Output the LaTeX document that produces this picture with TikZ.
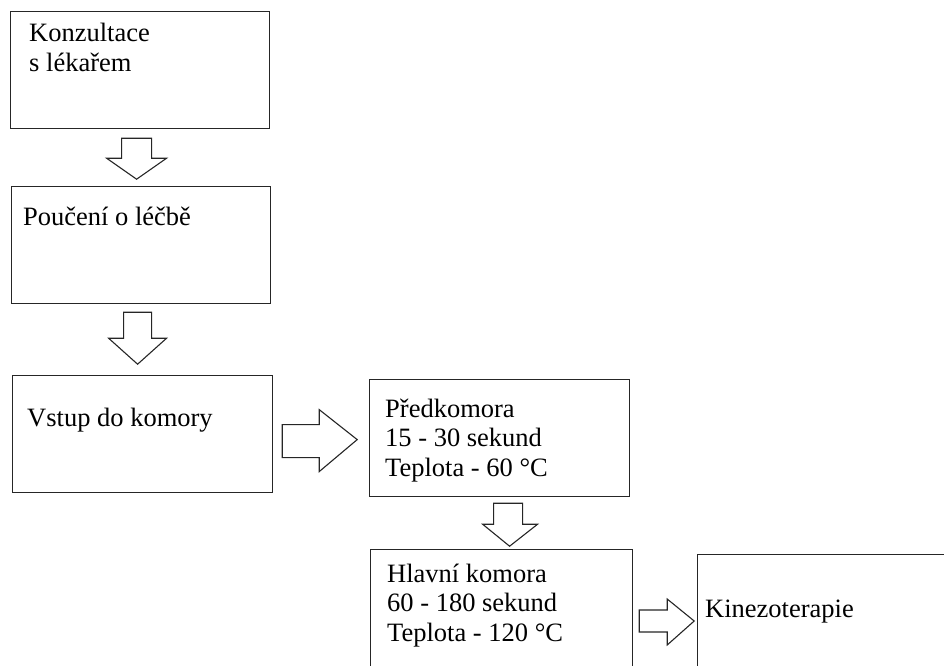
\documentclass[tikz,border=0pt]{standalone}
\usepackage{fontspec}
\setmainfont{Liberation Serif}
\usetikzlibrary{calc,positioning}

\begin{document}
\begin{tikzpicture}[
    x=1pt, y=-1pt,
    every node/.style={font=\fontsize{26.5}{29.5}\selectfont},
    box/.style={
        rectangle,
        draw=black!85,
        line width=1.2pt,
        anchor=north west,
        minimum width=260pt,
        minimum height=117pt,
        inner sep=0pt
    },
    boxtext/.style={
        anchor=base west,
        align=left,
        inner sep=0pt
    },
    fatarrow/.style={
        draw=black!85,
        line width=1.1pt,
        fill=white,
        line join=miter
    }
]
\useasboundingbox (0,0) rectangle (944,665);
\clip (0,0) rectangle (944,665);

% =========================================================
% BOXES
% =========================================================

\node[box, minimum width=259pt] (konz) at (10,11) {};
\node[box, minimum width=259pt] (pouc) at (11,186) {};
\node[box] (vstup) at (12,375) {};
\node[box] (pred) at (369,379) {};
\node[box, minimum width=262pt, minimum height=150pt] (hlav) at (370,549) {};
\node[box, minimum height=150pt] (kine) at (697,554) {};

% =========================================================
% TEXTS (anchored at the baseline of the last line)
% =========================================================

\node[boxtext] (konz-t) at ($(konz.north west)+(19,60)$) {Konzultace\\ s lékařem};
\node[boxtext] (pouc-t) at ($(pouc.north west)+(12,39)$) {Poučení o léčbě};
\node[boxtext] (vstup-t) at ($(vstup.north west)+(15,51)$) {Vstup do komory};
\node[boxtext] (pred-t) at ($(pred.north west)+(16,97)$)
    {Předkomora\\ 15 - 30 sekund\\ Teplota - 60 °C};
\node[boxtext] (hlav-t) at ($(hlav.north west)+(17,92)$)
    {Hlavní komora\\ 60 - 180 sekund\\ Teplota - 120 °C};
\node[boxtext] (kine-t) at ($(kine.north west)+(8,63)$) {Kinezoterapie};

% =========================================================
% BLOCK ARROWS
% =========================================================

\draw[fatarrow] ($(konz.south)+(-18.5,9)$)
    -- ++(30,0) -- ++(0,20) -- ++(15,0) -- ++(-30,21)
    -- ++(-30,-21) -- ++(15,0) -- cycle;

\draw[fatarrow] ($(pouc.south)+(-17.5,8)$)
    -- ++(28,0) -- ++(0,26) -- ++(15,0) -- ++(-29,26)
    -- ++(-29,-26) -- ++(15,0) -- cycle;

\draw[fatarrow] ($(vstup.east)+(9,-9.5)$)
    -- ++(37,0) -- ++(0,-15) -- ++(38,30) -- ++(-38,32)
    -- ++(0,-14) -- ++(-37,0) -- cycle;

\draw[fatarrow] ($(pred.south)+(-6,6)$)
    -- ++(29,0) -- ++(0,21) -- ++(15,0) -- ++(-28,22)
    -- ++(-27,-22) -- ++(11,0) -- cycle;

\draw[fatarrow] ($(hlav.north east)+(6,61)$)
    -- ++(28,0) -- ++(0,-11) -- ++(27,22) -- ++(-27,24)
    -- ++(0,-13) -- ++(-28,0) -- cycle;

\end{tikzpicture}
\end{document}
